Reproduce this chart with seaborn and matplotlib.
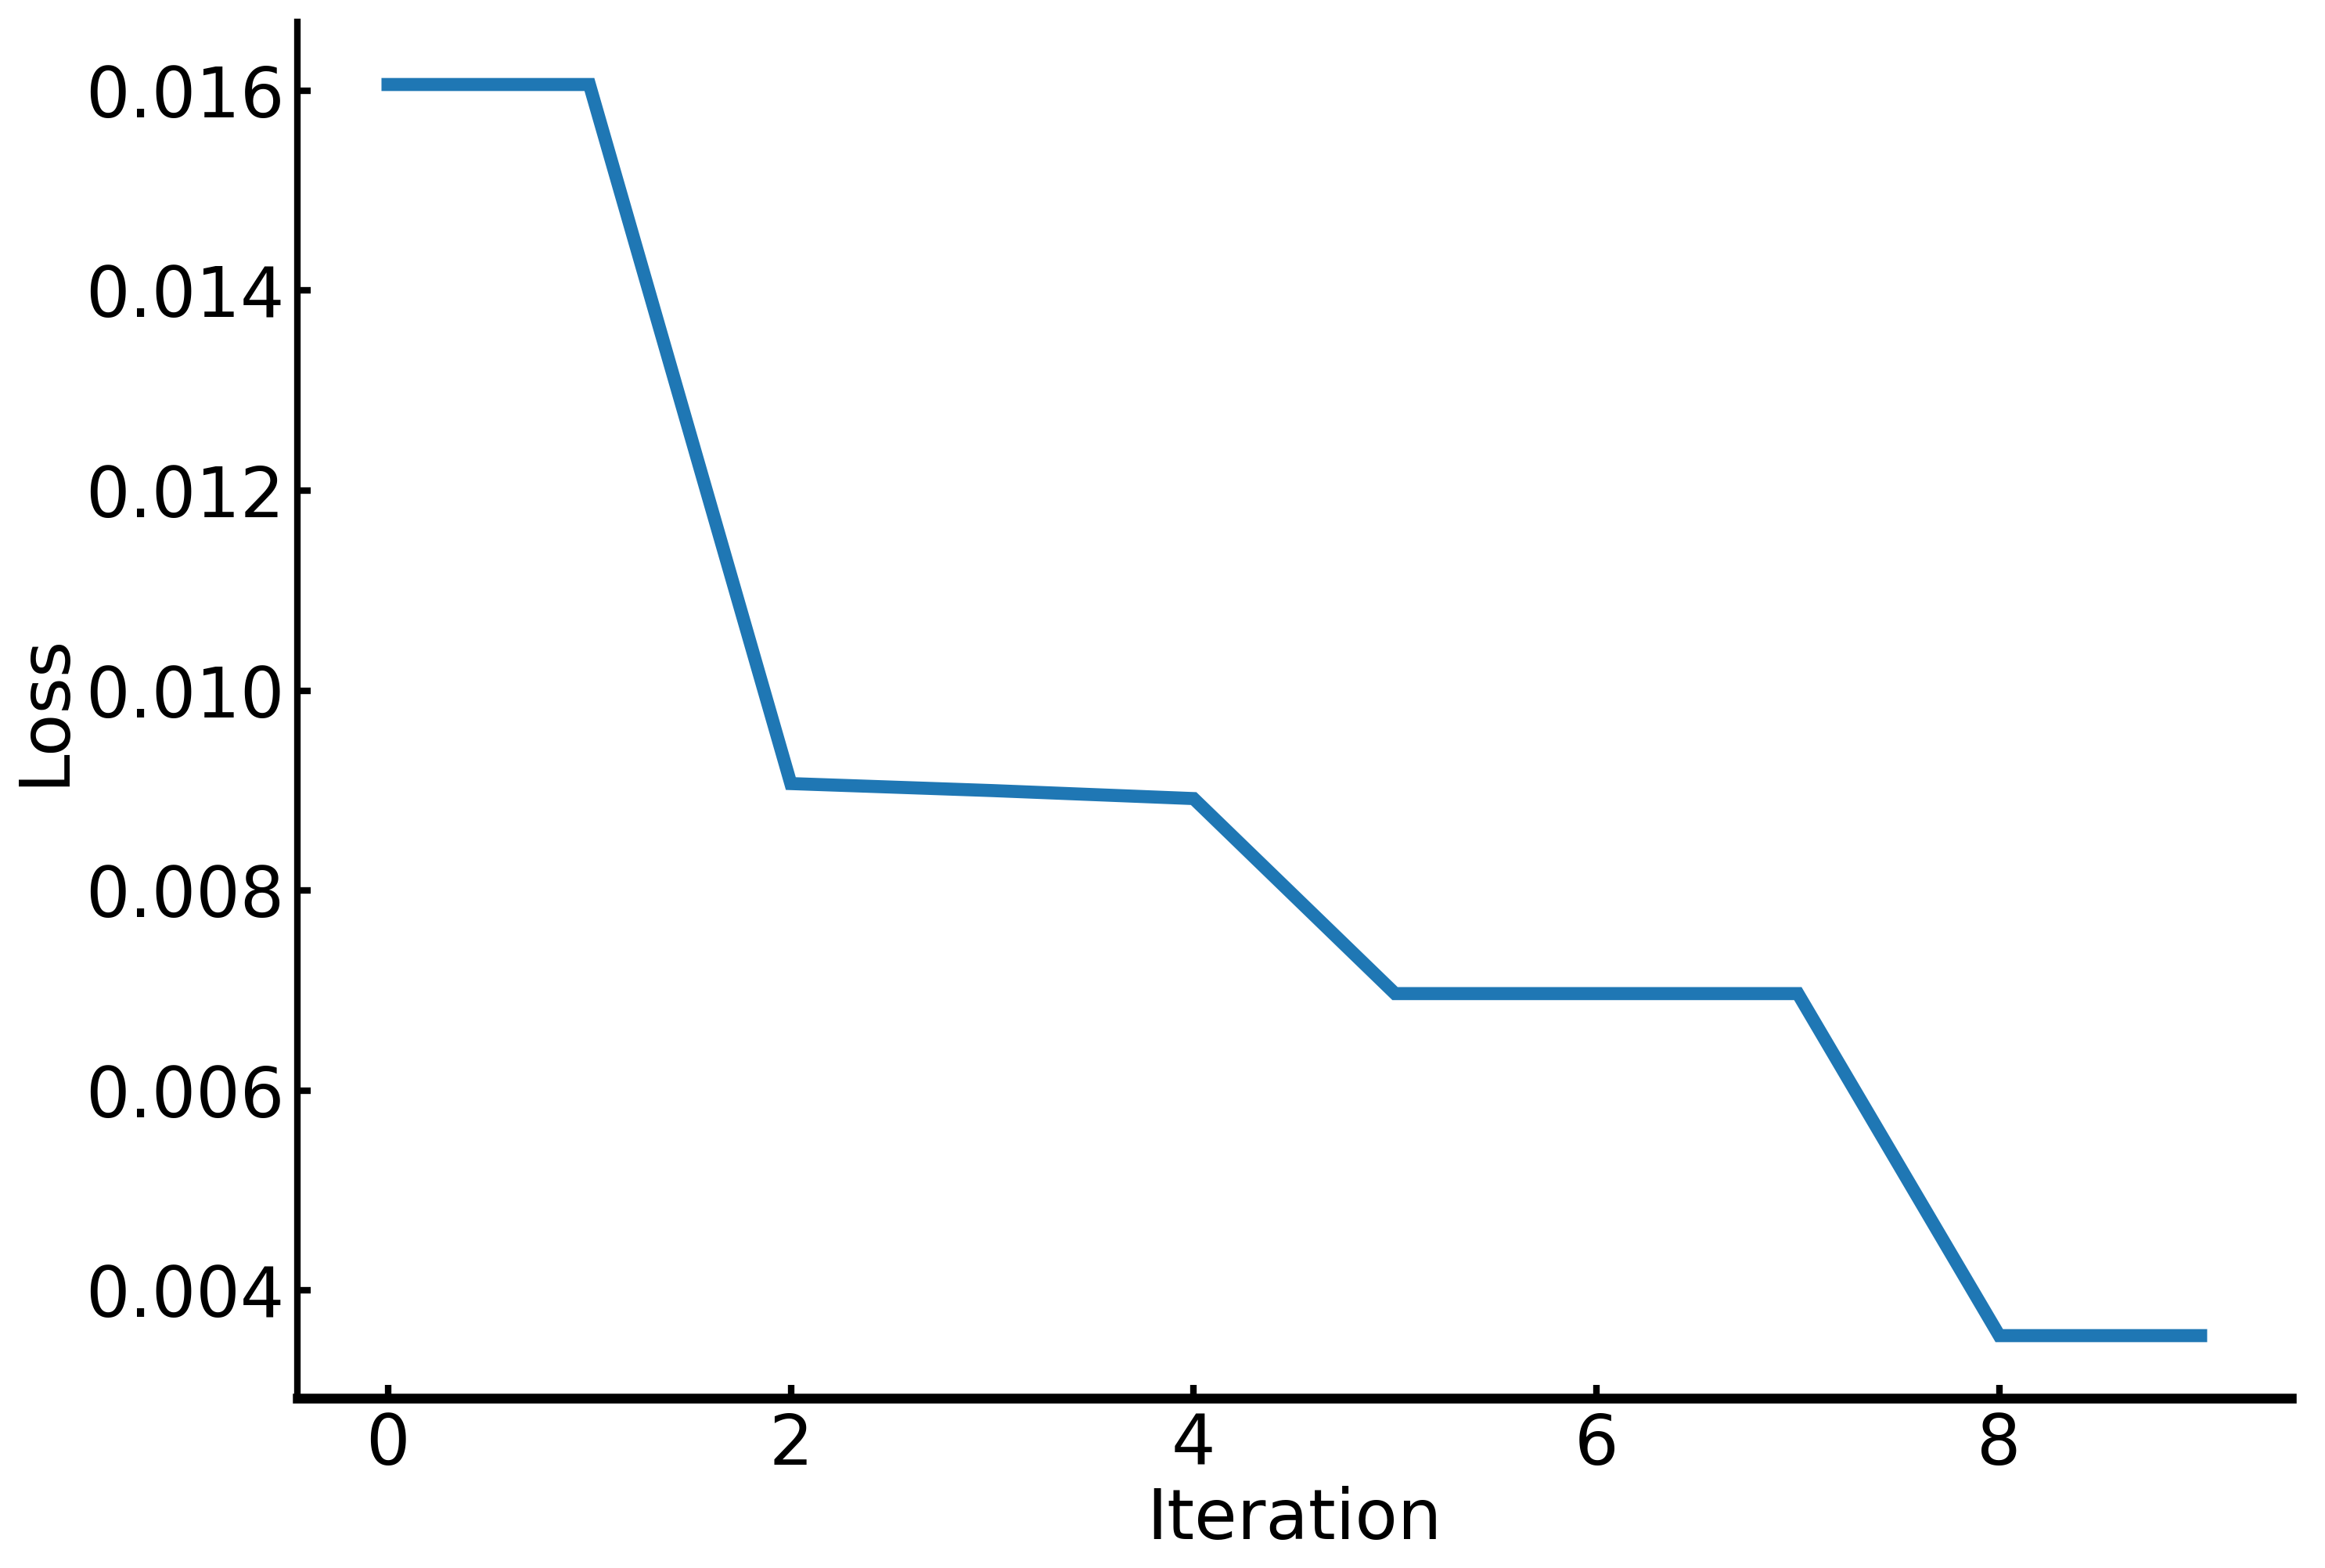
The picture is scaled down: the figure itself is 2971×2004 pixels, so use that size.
import matplotlib
matplotlib.use("Agg")
import matplotlib.pyplot as plt
import seaborn as sns
import pandas as pd

iterations = [0, 1, 2, 3, 4, 5, 6, 7, 8, 9]
loss = [0.01606, 0.01606, 0.00907, 0.00900, 0.00892, 0.00697, 0.00697, 0.00697, 0.00355, 0.00355]

sns.set_style("ticks")
plt.rcParams["font.family"] = ["DejaVu Sans"]
plt.rcParams["text.color"] = "black"
plt.rcParams["axes.labelcolor"] = "black"

df = pd.DataFrame({"Iteration": iterations, "Loss": loss})

fig = plt.figure(figsize=(14.855, 10.02), dpi=200)
ax = fig.add_axes([0.1279, 0.1083, 0.9855 - 0.1279, 0.986 - 0.1083])

sns.lineplot(data=df, x="Iteration", y="Loss", ax=ax, color="#1f77b4",
             linewidth=6, solid_capstyle="projecting", solid_joinstyle="miter")

ax.set_yticks([0.004, 0.006, 0.008, 0.010, 0.012, 0.014, 0.016])
ax.set_xticks([0, 2, 4, 6, 8])
ax.tick_params(direction="in", length=6, width=3, labelsize=32, colors="black", pad=6)
ax.set_xlabel("Iteration", fontsize=32, labelpad=3, color="black")
ax.set_ylabel("Loss", fontsize=32, labelpad=3, color="black")

sns.despine(ax=ax)
ax.spines["left"].set_linewidth(3)
ax.spines["bottom"].set_linewidth(4.5)
ax.spines["left"].set_color("black")
ax.spines["bottom"].set_color("black")

fig.savefig("out.png", dpi=200)
